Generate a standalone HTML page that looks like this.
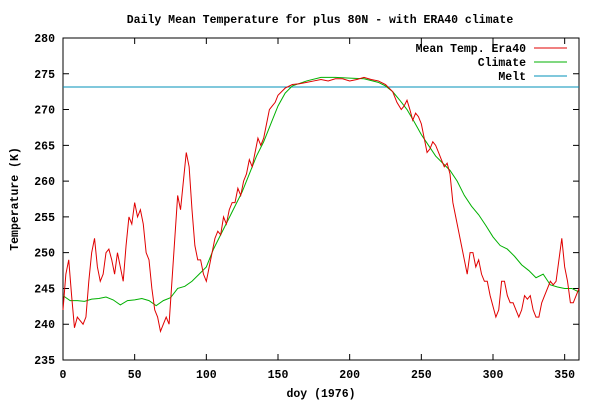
<!DOCTYPE html>
<html><head><meta charset="utf-8"><style>
body{margin:0;background:#fff}
svg text{font-family:"Liberation Mono",monospace;font-size:11.5px;font-weight:bold;fill:#000}
</style></head><body>
<svg id="c" width="600" height="400" xmlns="http://www.w3.org/2000/svg"></svg>
<script>
const xTicks=[0,50,100,150,200,250,300,350];
const yTicks=[235,240,245,250,255,260,265,270,275,280];
const meltValue=273.15;
const eraDays=[0,2,4,6,8,10,12,14,16,18,20,22,24,26,28,30,32,34,36,38,40,42,44,46,48,50,52,54,56,58,60,62,64,66,68,70,72,74,76,78,80,82,84,86,88,90,92,94,96,98,100,102,104,106,108,110,112,114,116,118,120,122,124,126,128,130,132,134,136,138,140,142,144,146,148,150,155,160,165,170,175,180,185,190,195,200,205,210,215,220,225,230,233,236,238,240,242,244,246,248,250,252,254,256,258,260,262,264,266,268,270,272,274,276,278,280,282,284,286,288,290,292,294,296,298,300,302,304,306,308,310,312,314,316,318,320,322,324,326,328,330,332,334,336,338,340,342,344,346,348,350,352,354,356,358,360];
const eraTemp=[242,247,249,244,239.5,241,240.5,240,241,246,250,252,248,246,247,250,250.5,249,247,250,248,246,251,255,254,257,255,256,254,250,249,245,242,241,239,240,241,240,246,252,258,256,260,264,262,256,251,249,249,247,246,248,250,252,253,252.5,255,254,256,257,257,259,258,260,261,263,262,264,266,265,266,268,270,270.5,271,272,273,273.5,273.6,273.8,274,274.2,274,274.3,274.3,274,274.2,274.5,274.2,274,273.5,272.5,271,270,270.5,271.3,270,268.5,269.5,269,268,266,264,264.5,265.5,265,264,263,262,262.5,261,257,255,253,251,249,247,250,250,248,249,247,246,246,244,242.5,241,242,246,246,244,243,243,242,241,242,244,243.5,244,242,241,241,243,244,245,246,245.5,246,249,252,248,246,243,243,244,245];
const climDays=[0,5,10,15,20,25,30,35,40,45,50,55,60,65,70,75,80,85,90,95,100,105,110,115,120,125,130,135,140,145,150,155,160,170,180,190,200,210,220,225,230,235,240,245,250,255,260,265,270,275,280,285,290,295,300,305,310,315,320,325,330,335,340,345,350,355,360];
const climTemp=[244,243.3,243.3,243.2,243.5,243.6,243.8,243.4,242.7,243.3,243.4,243.6,243.3,242.6,243.3,243.7,245,245.3,246,247,248,250.5,252.5,254.5,256.5,258.5,261,263.5,265.5,268,270.5,272.3,273.3,274,274.5,274.5,274.4,274.3,273.8,273.3,272.5,271.3,270,268.3,266.5,265,263.5,262.5,261.5,260,258,256.5,255.3,253.8,252.2,251,250.5,249.5,248.3,247.5,246.5,247,245.5,245.2,245,245,244.5];
const L=63,R=579,T=38,B=360,xmin=0,xmax=360,ymin=235,ymax=280;
const X=d=>L+(d-xmin)/(xmax-xmin)*(R-L);
const Y=v=>B-(v-ymin)/(ymax-ymin)*(B-T);
const svg=document.getElementById('c');const NS='http://www.w3.org/2000/svg';
function mk(t,a,txt){const e=document.createElementNS(NS,t);for(const k in a)e.setAttribute(k,a[k]);if(txt!==undefined)e.textContent=txt;svg.appendChild(e);return e;}
let e;
e=mk('rect',{x:L,y:T,width:R-L,height:B-T,fill:'none',stroke:'#000','stroke-width':1});


xTicks.forEach(t=>{const x=X(t);
e=mk('path',{d:`M${x},${B}v-6M${x},${T}v6`,stroke:'#000'});


e=mk('text',{x:x,y:B+18,'text-anchor':'middle'},t);

});
yTicks.forEach(t=>{const y=Y(t);
e=mk('path',{d:`M${L},${y}h6M${R},${y}h-6`,stroke:'#000'});


e=mk('text',{x:L-8,y:y+4,'text-anchor':'end'},t);

});
e=mk('text',{x:320,y:23,'text-anchor':'middle'},'Daily Mean Temperature for plus 80N - with ERA40 climate');


e=mk('text',{x:321,y:397,'text-anchor':'middle'},'doy (1976)');


e=mk('text',{x:18,y:199,'text-anchor':'middle',transform:'rotate(-90 18 199)'},'Temperature (K)');


e=mk('line',{x1:L,x2:R,y1:Y(meltValue),y2:Y(meltValue),stroke:'#0090b8','stroke-width':1});


function line(ds,vs,c,n){e=mk('polyline',{points:ds.map((d,i)=>X(d)+','+Y(vs[i])).join(' '),fill:'none',stroke:c,'stroke-width':1});

}
line(climDays,climTemp,'#00b000','climate-line');
line(eraDays,eraTemp,'#e00000','era40-line');
[['Mean Temp. Era40','#e00000',48],['Climate','#00b000',62],['Melt','#0090b8',76]].forEach(([t,c,y])=>{
e=mk('text',{x:526,y:y+4,'text-anchor':'end'},t);


e=mk('line',{x1:534,x2:567,y1:y,y2:y,stroke:c});

});
</script>
</body></html>
